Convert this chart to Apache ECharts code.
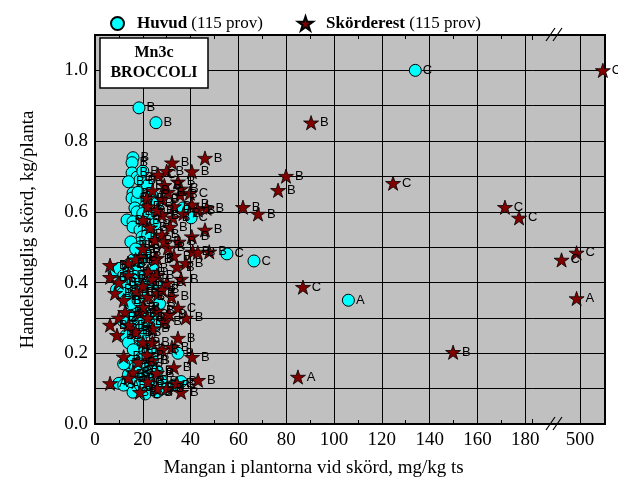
<!DOCTYPE html>
<html><head><meta charset="utf-8">
<script src="https://cdn.jsdelivr.net/npm/echarts@6/dist/echarts.min.js"></script>
<style>html,body{margin:0;padding:0;background:#fff}#c{width:618px;height:480px}</style>
</head><body><div id="c"></div>
<script>
// ---- Huvud (cyan circles) ----
const huvudX = [134,106,66.5,55.2,40.2,36.8,18.4,25.5,34.7,10,
 15.9,15.5,15.5,17.6,18.8,15.9,15.5,17.6,16.7,17.6,13.4,15.9,15.9,18.8,19.7,18.8,18.8,17.6,15.9,
 22,24,21,23,25,22,26,20,
 8,10,12,14,11,13,15,17,18,20,16,22,24,12,19,21,9,
 11.7,15.9,27.2,18.8,15.9,20.1,17.6,18.8,15.9,18.8,
 14,22,24,12,21,25,13,
 17.6,15.9,18.8,18.0,20.1,15.9,18.8,24.3,17.6,15.9,20.1,25.9,25.9,
 22,24,20,18,14,22,28,30,12,17,23,26,21,33,36,
 14,18,20,15,17,21,13,15,18,14,16,19,12,15,19,27];
const huvudY = [1.0,0.35,0.461,0.481,0.583,0.611,0.894,0.852,0.20,0.115,
 0.753,0.739,0.710,0.698,0.690,0.653,0.639,0.634,0.611,0.600,0.577,0.572,0.557,0.549,0.529,0.512,0.501,0.478,0.464,
 0.675,0.645,0.615,0.595,0.565,0.535,0.625,0.715,
 0.43,0.44,0.42,0.45,0.40,0.39,0.41,0.43,0.39,0.37,0.37,0.40,0.44,0.36,0.46,0.42,0.38,
 0.37,0.407,0.387,0.330,0.322,0.322,0.302,0.285,0.274,0.265,
 0.31,0.29,0.31,0.29,0.26,0.28,0.25,
 0.189,0.180,0.175,0.152,0.143,0.132,0.130,0.124,0.104,0.090,0.095,0.104,0.090,
 0.16,0.18,0.20,0.22,0.14,0.115,0.12,0.10,0.11,0.16,0.21,0.15,0.085,0.11,0.12,
 0.685,0.655,0.595,0.515,0.495,0.485,0.35,0.34,0.35,0.23,0.21,0.24,0.17,0.12,0.11,0.34];
const huvudL = ['C','A','C','C','C','B','B','B','B','A',
 'B','B','B','B','B','B','B','B','B','B','B','B','B','B','B','B','B','B','B',
 'B','C','B','B','B','B','B','B',
 'B','B','B','B','B','B','B','B','B','B','B','B','B','B','B','B','B',
 'B','B','B','B','B','B','B','B','B','B',
 'B','B','B','B','B','B','B',
 'B','B','B','B','B','B','B','B','B','B','B','B','B',
 'B','B','B','B','B','B','B','B','A','B','B','B','B','B','B',
 'B','B','B','B','B','B','B','B','B','B','B','B','B','B','B','B'];

// ---- Skörderest (dark red stars) ----
const restX = [509.6,90.4,79.9,76.6,61.9,68.2,124.7,171.5,177.4,498.6,492.3,498.6,149.8,87.0,84.9,
 46,40.5,46.7,40.5,46,40.5,40.9,47.8,32.2,26.4,34.7,30.5,21.8,39.7,35.6,28,20.1,32.6,31.4,25.1,30.5,6.3,13.8,18.8,25.9,34.3,22.2,
 6.3,25.9,30.1,8.4,17.6,26.4,34.7,12.6,18.8,6.3,9.2,15.9,20.1,34.7,32.2,40.6,21.8,18.0,25.9,15.9,6.3,43.1,18.8,30.1,34.3,
 24,28,33,37,22,30,36,43,26,29,
 23,28,35,20,33,25,38,29,43,17,
 10,14,20,28,32,12,24,36,22,
 10,14,22,26,29,17,24,31,20,
 12,24,28,14,22,26,33,36,24,38];
const restY = [1.0,0.852,0.701,0.661,0.613,0.594,0.681,0.613,0.583,0.484,0.464,0.355,0.203,0.387,0.133,
 0.752,0.714,0.61,0.62,0.549,0.53,0.487,0.487,0.739,0.705,0.685,0.656,0.639,0.653,0.648,0.591,0.577,0.583,0.557,0.52,0.498,0.449,0.455,0.472,0.469,0.444,0.43,
 0.415,0.421,0.399,0.370,0.373,0.370,0.328,0.316,0.314,0.280,0.251,0.265,0.231,0.243,0.217,0.189,0.195,0.175,0.144,0.146,0.115,0.124,0.090,0.101,0.115,
 0.66,0.635,0.615,0.595,0.615,0.715,0.665,0.605,0.605,0.675,
 0.555,0.535,0.515,0.495,0.475,0.465,0.455,0.515,0.485,0.465,
 0.40,0.42,0.39,0.38,0.36,0.35,0.41,0.41,0.36,
 0.30,0.28,0.30,0.32,0.29,0.26,0.27,0.31,0.33,
 0.19,0.18,0.21,0.13,0.12,0.10,0.16,0.09,0.23,0.30];
const restL = ['C','B','B','B','B','B','C','C','C','C','C','A','B','C','A',
 'B','B','B','B','B','B','B','B','B','C','B','B','B','C','B','B','B','B','B','B','B','B','B','B','B','B','B',
 'B','B','B','B','B','B','C','B','B','B','B','B','B','B','B','B','B','B','B','B','A','B','B','B','B',
 'B','B','B','B','B','B','B','B','B','B',
 'B','B','B','B','B','B','B','B','B','B',
 'B','B','B','B','B','B','B','B','B',
 'B','B','B','B','B','B','B','B','B',
 'B','B','B','B','B','B','B','B','B','B'];

// axis segments (broken x axis: 0–182.9 | 480–510.5)
const leftRange = [0, 182.9];
const rightRange = [480, 510.5];
const xTickLabels = [0,20,40,60,80,100,120,140,160,180,500];
const yTickLabels = [0.0,0.2,0.4,0.6,0.8,1.0];

const STAR = 'path://M50 0 L61.23 34.55 L97.55 34.55 L68.17 55.9 L79.39 90.45 L50 69.1 L20.61 90.45 L31.83 55.9 L2.45 34.55 L38.77 34.55 Z';
const serif = 'Liberation Serif';
const sans = 'Liberation Sans';

const chart = echarts.init(document.getElementById('c'), null, {renderer:'canvas'});

const xFmt = v => xTickLabels.some(t => Math.abs(t - v) < 1e-6) ? String(Math.round(v)) : '';
const yFmt = v => yTickLabels.some(t => Math.abs(t - v) < 1e-6) ? v.toFixed(1) : '';

const black = {color:'#000', width:1};
const lbl = {show:true, position:'right', distance:1, formatter: p => p.data[2],
  fontFamily:sans, fontSize:13, color:'#000'};

const TOP = 35, BOTTOM = 56, SPLIT = 532.2;

const inRange = (x, r) => x >= r[0] && x <= r[1];
const mk = (X, Y, L, r) => X.map((x,i) => [x, Y[i], L[i]]).filter(d => inRange(d[0], r));

const legendText = {padding:[0,0,0,8], rich:{
  b:{fontFamily:serif, fontWeight:'bold', fontSize:17, color:'#000'},
  n:{fontFamily:serif, fontSize:17, color:'#000'}}};

chart.setOption({
  animation:false,
  backgroundColor:'#fff',
  grid:[
    {left:95, right:618 - SPLIT, top:TOP, bottom:BOTTOM, outerBoundsMode:'none', containLabel:false, show:false},
    {left:SPLIT, right:13, top:TOP, bottom:BOTTOM, outerBoundsMode:'none', containLabel:false, show:false},
    {left:95, right:13, top:TOP, bottom:BOTTOM, outerBoundsMode:'none', containLabel:false, show:true,
     backgroundColor:'#c0c0c0', borderColor:'#000', borderWidth:2, z:0}
  ],
  legend:[{
    data:['Huvud'], left:105, top:10, itemWidth:13, itemHeight:13,
    formatter: n => '{b|' + n + '}{n| (115 prov)}', textStyle:legendText
  },{
    data:['Skörderest'], left:292, top:10, itemWidth:15, itemHeight:15,
    formatter: n => '{b|' + n + '}{n| (115 prov)}', textStyle:legendText
  }],
  xAxis:[{
    gridIndex:0, type:'value', min:leftRange[0], max:leftRange[1], interval:20, position:'bottom', z:1,
    axisLine:{show:false}, axisTick:{show:true, inside:true, length:5, lineStyle:black},
    minorTick:{show:true, splitNumber:2, length:4, lineStyle:black},
    splitLine:{show:true, showMinLine:false, showMaxLine:false, lineStyle:black},
    axisLabel:{formatter:xFmt, fontFamily:serif, fontSize:19, color:'#000', margin:7, hideOverlap:false, showMaxLabel:false},
    name:'Mangan i plantorna vid skörd, mg/kg ts', nameLocation:'middle', nameGap:35,
    nameTextStyle:{fontFamily:serif, fontSize:19, color:'#000'}
  },{
    gridIndex:1, type:'value', min:rightRange[0], max:rightRange[1], interval:20, position:'bottom', z:1,
    axisLine:{show:false}, axisTick:{show:false},
    splitLine:{show:true, showMinLine:false, showMaxLine:false, lineStyle:black},
    axisLabel:{formatter:xFmt, fontFamily:serif, fontSize:19, color:'#000', margin:7, hideOverlap:false, showMinLabel:false, showMaxLabel:false}
  },{
    gridIndex:0, type:'value', min:leftRange[0], max:leftRange[1], interval:20, position:'top', z:1,
    axisLine:{show:false}, axisTick:{show:true, inside:true, length:5, lineStyle:black},
    minorTick:{show:true, splitNumber:2, length:4, lineStyle:black},
    splitLine:{show:false}, axisLabel:{show:false}
  },{
    gridIndex:2, type:'value', min:0, max:1, show:false
  }],
  yAxis:[{
    gridIndex:0, type:'value', min:0, max:1.1, interval:0.1, z:1,
    axisLine:{show:false}, axisTick:{show:true, inside:true, length:5, lineStyle:black},
    splitLine:{show:true, showMinLine:false, showMaxLine:false, lineStyle:black},
    axisLabel:{formatter:yFmt, fontFamily:serif, fontSize:19, color:'#000', margin:7},
    name:'Handelsduglig skörd, kg/planta', nameLocation:'middle', nameGap:57,
    nameTextStyle:{fontFamily:serif, fontSize:19, color:'#000'}
  },{
    gridIndex:1, type:'value', min:0, max:1.1, interval:0.1, z:1, position:'right',
    axisLine:{show:false}, axisTick:{show:true, inside:true, length:5, lineStyle:black},
    splitLine:{show:true, showMinLine:false, showMaxLine:false, lineStyle:black},
    axisLabel:{show:false}
  },{
    gridIndex:2, type:'value', min:0, max:1, show:false
  }],
  series:[{
    name:'Huvud', type:'scatter', xAxisIndex:0, yAxisIndex:0, symbol:'circle', symbolSize:12,
    itemStyle:{color:'#00ffff', borderColor:'#000', borderWidth:1, opacity:1},
    label:lbl, z:2,
    data: mk(huvudX, huvudY, huvudL, leftRange)
  },{
    name:'Skörderest', type:'scatter', xAxisIndex:0, yAxisIndex:0, symbol:STAR, symbolSize:15, symbolKeepAspect:true,
    itemStyle:{color:'#800000', borderColor:'#000', borderWidth:0.8, opacity:1},
    label:lbl, z:3,
    data: mk(restX, restY, restL, leftRange)
  },{
    name:'Skörderest', type:'scatter', xAxisIndex:1, yAxisIndex:1, symbol:STAR, symbolSize:15, symbolKeepAspect:true,
    itemStyle:{color:'#800000', borderColor:'#000', borderWidth:0.8, opacity:1},
    label:lbl, z:3, clip:false,
    data: mk(restX, restY, restL, rightRange)
  }],
  graphic:[
    {type:'rect', shape:{x:100, y:38, width:108, height:50}, style:{fill:'#fff', stroke:'#000', lineWidth:1.5}, z:100},
    {type:'text', x:154, y:53, style:{text:'Mn3c', font:'bold 16px "Liberation Serif"', fill:'#000', textAlign:'center', textVerticalAlign:'middle'}, z:101},
    {type:'text', x:154, y:73, style:{text:'BROCCOLI', font:'bold 16px "Liberation Serif"', fill:'#000', textAlign:'center', textVerticalAlign:'middle'}, z:101},
    {type:'line', shape:{x1:546, y1:430, x2:555, y2:417}, style:{stroke:'#000', lineWidth:1.2}, z:100},
    {type:'line', shape:{x1:553, y1:430, x2:562, y2:417}, style:{stroke:'#000', lineWidth:1.2}, z:100},
    {type:'line', shape:{x1:546, y1:41, x2:555, y2:28}, style:{stroke:'#000', lineWidth:1.2}, z:100},
    {type:'line', shape:{x1:553, y1:41, x2:562, y2:28}, style:{stroke:'#000', lineWidth:1.2}, z:100}
  ]
});
</script></body></html>
